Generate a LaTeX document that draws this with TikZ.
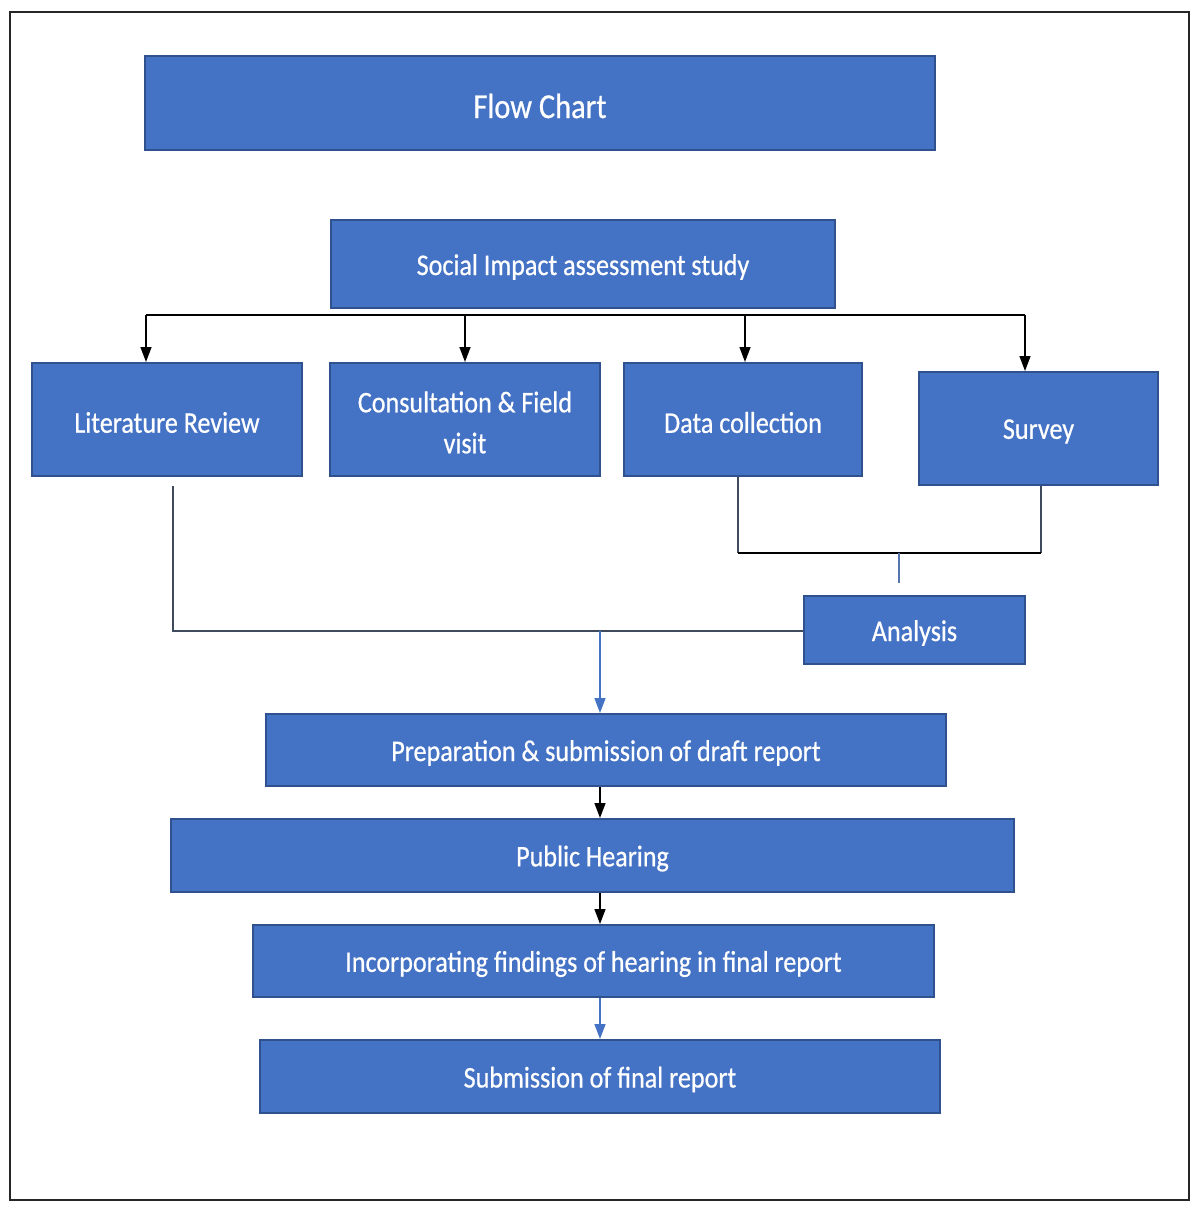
\documentclass[tikz,border=0pt]{standalone}
\usepackage{fontspec}
\setmainfont{Carlito}[FakeStretch=0.87,FakeBold=0.6]
\usetikzlibrary{arrows.meta}
\definecolor{boxfill}{HTML}{4472C4}
\definecolor{boxedge}{HTML}{2F528F}
\definecolor{lineblue}{HTML}{4472C4}
\definecolor{linegray}{HTML}{3F4A5C}
\tikzset{
  box/.style={draw=boxedge, line width=2pt, fill=boxfill, inner sep=0pt},
  lbl/.style={text=white, align=center, inner sep=0pt,
    font=\fontsize{30}{41}\selectfont},
  blk/.style={draw=black, line width=1.4pt},
  blkarr/.style={blk, -{Triangle[width=11pt,length=15pt]}},
  blu/.style={draw=lineblue, line width=1.4pt},
  bluarr/.style={blu, -{Triangle[width=11pt,length=15pt]}},
  gry/.style={draw=linegray, line width=1.4pt},
}
\newcommand{\bx}[6]{\node[box, minimum width={#4-#2}, minimum height={#5-#3}] (#1) at ({(#2+#4)/2},{(#3+#5)/2}) {};
  \node[lbl] (#1-t) at ([yshift=-3pt]#1.center) {#6};}
\begin{document}
\begin{tikzpicture}[x=1pt,y=-1pt]
\useasboundingbox (0,0) rectangle (1194,1205);
\draw[line width=1.6pt, draw=black!85] (10,12) rectangle (1189,1200);
\bx{title}{145}{56}{935}{150}{\fontsize{35}{40}\selectfont Flow Chart}
\bx{sia}{331}{220}{835}{308}{Social Impact assessment study}
\bx{lit}{32}{363}{302}{476}{Literature Review}
\bx{cons}{330}{363}{600}{476}{Consultation \& Field\\visit}
\bx{data}{624}{363}{862}{476}{Data collection}
\bx{surv}{919}{372}{1158}{485}{Survey}
\bx{ana}{804}{596}{1025}{664}{Analysis}
\bx{prep}{266}{714}{946}{786}{Preparation \& submission of draft report}
\bx{pub}{171}{819}{1014}{892}{Public Hearing}
\bx{inc}{253}{925}{934}{997}{Incorporating findings of hearing in final report}
\bx{sub}{260}{1040}{940}{1113}{Submission of final report}
% top distribution bar
\coordinate (b1) at (146,315);
\coordinate (b2) at (465,315);
\coordinate (b3) at (745,315);
\coordinate (b4) at (1025,315);
\draw[blk] (b1) -- (b4);
\draw[blkarr] (b1) -- (b1 |- lit.north);
\draw[blkarr] (b2) -- (b2 |- cons.north);
\draw[blkarr] (b3) -- (b3 |- data.north);
\draw[blkarr] (b4) -- (b4 |- surv.north);
% data + survey to analysis
\coordinate (d1) at (738,553);
\coordinate (s1) at (1041,553);
\coordinate (m1) at (899,553);
\coordinate (m2) at (899,583);
\draw[gry] (data.south -| d1) -- (d1);
\draw[gry] (surv.south -| s1) -- (s1);
\draw[blk] (d1) -- (s1);
\draw[gry, draw=lineblue!70!gray] (m1) -- (m2);
% literature + analysis to preparation
\coordinate (l0) at (173,486);
\coordinate (l1) at (173,631);
\coordinate (j1) at (600,631);
\draw[gry] (l0) -- (l1) -- (l1 -| ana.west);
\draw[bluarr] (j1) -- (j1 |- prep.north);
% chain
\coordinate (c1) at (600,786);
\draw[blkarr] (c1 |- prep.south) -- (c1 |- pub.north);
\draw[blkarr] (c1 |- pub.south) -- (c1 |- inc.north);
\draw[bluarr] (c1 |- inc.south) -- (c1 |- sub.north);
\end{tikzpicture}
\end{document}
